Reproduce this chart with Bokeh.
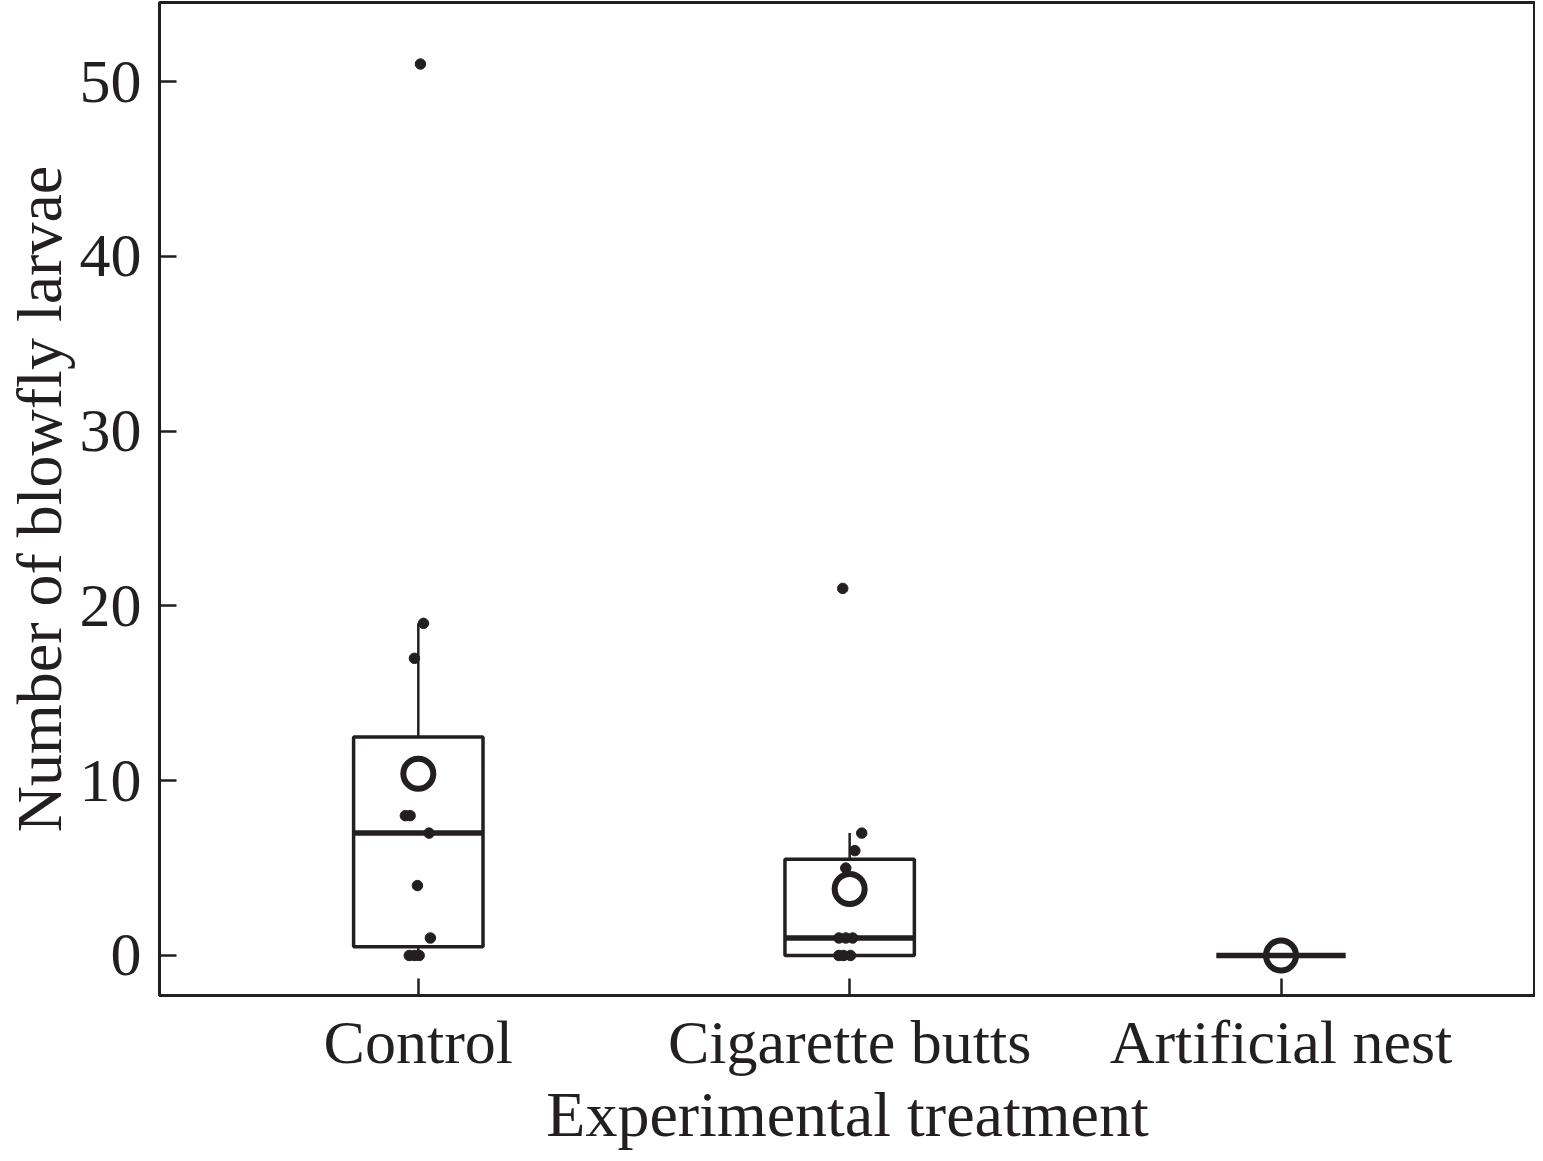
from bokeh.plotting import figure
from bokeh.models import FixedTicker
from bokeh.embed import file_html
from bokeh.resources import INLINE

categories = ["Control", "Cigarette butts", "Artificial nest"]
q1 = [0.5, 0.0, 0.0]
median = [7.0, 1.0, 0.0]
q3 = [12.5, 5.5, 0.0]
whisker_low = [0.0, 0.0, 0.0]
whisker_high = [19.0, 7.0, 0.0]
means = [10.4, 3.8, 0.0]

control_values = [51, 19, 17, 8, 8, 7, 4, 1, 0, 0, 0]
cigarette_values = [21, 7, 6, 5, 1, 1, 1, 0, 0, 0]
y_ticks = [0, 10, 20, 30, 40, 50]

# horizontal jitter of the points (position offsets, not data)
control_jitter = [0.005, 0.012, -0.009, -0.030, -0.019, 0.025, -0.002, 0.028, -0.021, -0.009, 0.002]
cigarette_jitter = [-0.016, 0.028, 0.012, -0.009, -0.025, -0.009, 0.007, -0.025, -0.014, 0.002]

INK = "#231f20"
FONT = "Liberation Serif"
FS = "62px"
TFS = "64px"

xpos = [1, 2, 3]
half = 0.15

p = figure(width=1535, height=1152, x_range=(0.4, 3.59), y_range=(-2.29, 54.52),
           output_backend="svg", toolbar_location=None,
           min_border_left=150, min_border_right=0, min_border_top=2, min_border_bottom=0)
p.background_fill_color = "white"
p.border_fill_color = "white"
p.xgrid.visible = False
p.ygrid.visible = False
p.outline_line_color = INK
p.outline_line_width = 3
p.outline_line_alpha = 1

# whiskers
p.segment(x0=xpos[:2], y0=q3[:2], x1=xpos[:2], y1=whisker_high[:2], line_color=INK, line_width=2.5)
p.segment(x0=xpos[:2], y0=whisker_low[:2], x1=xpos[:2], y1=q1[:2], line_color=INK, line_width=2.5)

# boxes
left = [x - half for x in xpos]
right = [x + half for x in xpos]
p.quad(left=left[:2], right=right[:2], bottom=q1[:2], top=q3[:2],
       fill_color=None, line_color=INK, line_width=3.5)
# medians
p.segment(x0=left, y0=median, x1=right, y1=median, line_color=INK, line_width=5.5)

# points
cx = [1 + j for j in control_jitter]
gx = [2 + j for j in cigarette_jitter]
p.scatter(x=cx, y=control_values, size=10.5, color=INK)
p.scatter(x=gx, y=cigarette_values, size=10.5, color=INK)

# means
p.scatter(x=xpos, y=means, size=30, marker="circle", fill_color=None, line_color=INK, line_width=6)

# axes
p.xaxis.ticker = FixedTicker(ticks=xpos)
p.xaxis.major_label_overrides = {1: categories[0], 2: categories[1], 3: categories[2]}
p.yaxis.ticker = FixedTicker(ticks=y_ticks)
for ax in (p.xaxis, p.yaxis):
    ax.axis_line_color = INK
    ax.axis_line_width = 3
    ax.major_tick_line_color = INK
    ax.major_tick_line_width = 2.5
    ax.major_tick_in = 17
    ax.major_tick_out = 0
    ax.minor_tick_line_color = None
    ax.major_label_text_font = FONT
    ax.major_label_text_font_size = FS
    ax.major_label_text_color = INK
    ax.axis_label_text_font = FONT
    ax.axis_label_text_font_size = TFS
    ax.axis_label_text_font_style = "normal"
    ax.axis_label_text_color = INK

p.xaxis.axis_label = "Experimental treatment"
p.yaxis.axis_label = "Number of blowfly larvae"
p.xaxis.major_label_standoff = 12
p.xaxis.axis_label_standoff = 0
p.yaxis.major_label_standoff = 18
p.yaxis.axis_label_standoff = 2

open("out.html", "w").write(file_html(p, INLINE))
